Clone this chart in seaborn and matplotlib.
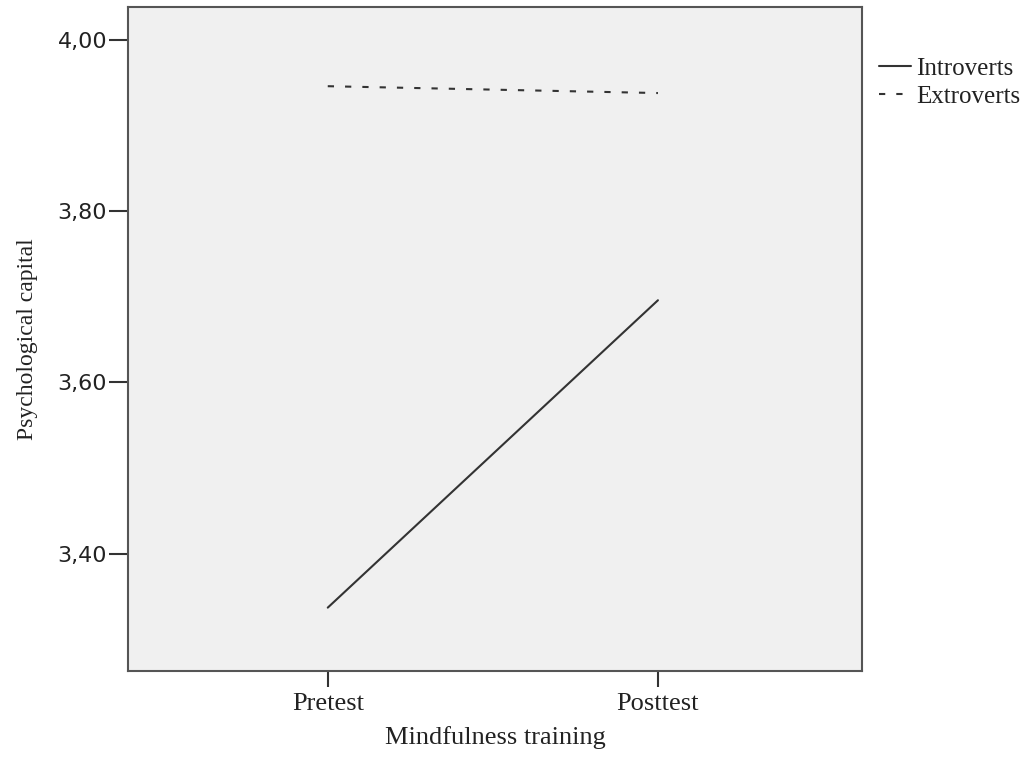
import pandas as pd
import matplotlib
matplotlib.use("Agg")
import matplotlib.pyplot as plt
from matplotlib.lines import Line2D
from matplotlib.ticker import FuncFormatter
import seaborn as sns

# data
phases = ["Pretest", "Posttest"]
introverts = [3.337, 3.696]
extroverts = [3.946, 3.938]
groups = ["Introverts", "Extroverts"]
y_ticks = [3.40, 3.60, 3.80, 4.00]

df = pd.DataFrame({
    "phase": phases * 2,
    "capital": introverts + extroverts,
    "group": [groups[0]] * 2 + [groups[1]] * 2,
})

sns.set_style("white")
serif = "Liberation Serif"
line_col = "#333333"
dash = (3, 5.3)

fig = plt.figure(figsize=(10.35, 7.57), dpi=100)
ax = fig.add_axes([128 / 1035, 86 / 757, 734 / 1035, 664 / 757])
ax.set_facecolor("#f0f0f0")

sns.lineplot(data=df, x="phase", y="capital", hue="group", style="group",
             palette={g: line_col for g in groups},
             dashes={"Introverts": "", "Extroverts": dash},
             linewidth=1.5, sort=False, ax=ax, legend=False)

ax.set_xlim(-0.605, 1.618)
ax.set_ylim(3.263, 4.0385)
ax.set_yticks(y_ticks)
ax.yaxis.set_major_formatter(FuncFormatter(lambda v, p: f"{v:.2f}".replace(".", ",")))

for s in ax.spines.values():
    s.set_color("#555555")
    s.set_linewidth(1.5)

ax.tick_params(axis="y", direction="out", length=14, width=1.5, color="#333333",
               pad=1, labelsize=16, left=True)
ax.tick_params(axis="x", direction="out", length=11.5, width=1.5, color="#333333",
               pad=4, left=False, bottom=True)
for lab in ax.get_yticklabels():
    lab.set_family("DejaVu Sans")
    lab.set_color("#222222")
for lab in ax.get_xticklabels():
    lab.set_family(serif)
    lab.set_fontsize(19)
    lab.set_color("#222222")

ax.set_xlabel("Mindfulness training", family=serif, fontsize=19, color="#222222", labelpad=8)
ax.set_ylabel("Psychological capital", family=serif, fontsize=17, color="#222222", labelpad=14)

handles = [Line2D([], [], color=line_col, lw=1.5),
           Line2D([], [], color=line_col, lw=1.5, dashes=dash)]
fig.legend(handles, groups, loc="upper left", bbox_to_anchor=(0.849, 0.924),
           frameon=False, handlelength=1.3, handletextpad=0.2, labelspacing=0.2,
           borderaxespad=0, borderpad=0, prop={"family": serif, "size": 18},
           labelcolor="#222222")

fig.savefig("out.png", dpi=100)
